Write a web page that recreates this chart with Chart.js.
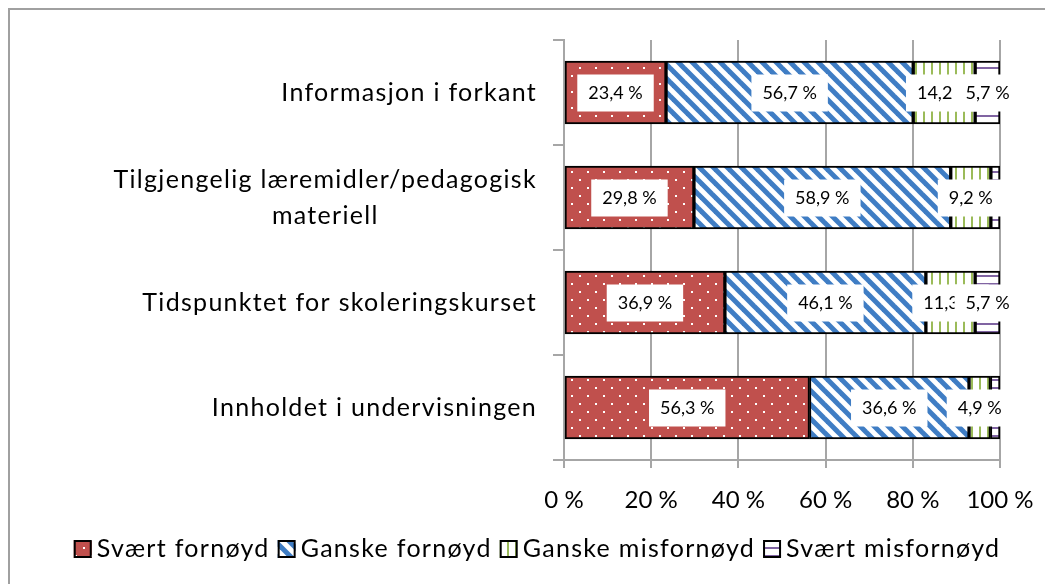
<!DOCTYPE html>
<html>
<head>
<meta charset="utf-8">
<script src="https://cdn.jsdelivr.net/npm/chart.js@4.4.1/dist/chart.umd.min.js"></script>
<style>
  html, body { margin: 0; padding: 0; background: #fff; }
  #wrap { width: 1045px; height: 584px; }
</style>
</head>
<body>
<div id="wrap"><canvas id="myChart"></canvas></div>
<script>
// data (percent of answers)
const categories = [
    ['Informasjon i forkant'],
    ['Tilgjengelig læremidler/pedagogisk', 'materiell'],
    ['Tidspunktet for skoleringskurset'],
    ['Innholdet i undervisningen']
]
const seriesNames = ['Svært fornøyd', 'Ganske fornøyd', 'Ganske misfornøyd', 'Svært misfornøyd']
const svaertFornoyd = [23.4, 29.8, 36.9, 56.3]
const ganskeFornoyd = [56.7, 58.9, 46.1, 36.6]
const ganskeMisfornoyd = [14.2, 9.2, 11.3, 4.9]
const svaertMisfornoyd = [5.7, 2.1, 5.7, 2.2]
const xTickStep = 20

const FONT = 'Lato'

const makePattern = (ctx, w, h, bg, draw) => {
    const c = document.createElement('canvas')
    c.width = w
    c.height = h
    const g = c.getContext('2d')
    g.fillStyle = bg
    g.fillRect(0, 0, w, h)
    draw(g)
    return ctx.createPattern(c, 'repeat')
}

const ctx = document.getElementById('myChart').getContext('2d')

// red with white dots
const dots = makePattern(ctx, 16, 16, '#C0504D', g => {
    g.fillStyle = '#fff'
    g.fillRect(3, 3, 2, 2)
    g.fillRect(11, 11, 2, 2)
})
// white with blue "\" stripes
const stripes = makePattern(ctx, 14, 14, '#fff', g => {
    g.strokeStyle = '#3F7DC4'
    g.lineWidth = 5
    ;[-14, 0, 14].forEach(o => {
        g.beginPath()
        g.moveTo(o - 2, -2)
        g.lineTo(o + 16, 16)
        g.stroke()
    })
})
// white with green vertical lines
const vlines = makePattern(ctx, 8, 8, '#fff', g => {
    g.fillStyle = '#9BBB59'
    g.fillRect(3, 0, 2, 8)
})
// white with purple horizontal lines
const hlines = makePattern(ctx, 8, 8, '#fff', g => {
    g.fillStyle = '#8064A2'
    g.fillRect(0, 3, 8, 2)
})

const fills = [dots, stripes, vlines, hlines]
const values = [svaertFornoyd, ganskeFornoyd, ganskeMisfornoyd, svaertMisfornoyd]

const outerBorder = {
    id: 'outerBorder',
    beforeDraw(chart) {
        const c = chart.ctx
        c.save()
        c.strokeStyle = '#A0A0A0'
        c.lineWidth = 2
        c.strokeRect(9, 9, 1200, 1200)
        c.restore()
    }
}

// category labels, lines centered on each other, right edge near the axis
const catLabels = {
    id: 'catLabels',
    afterDraw(chart) {
        const c = chart.ctx
        const y = chart.scales.y
        c.save()
        c.font = '25px ' + FONT
        c.letterSpacing = '1.3px'
        c.fillStyle = '#000'
        c.textAlign = 'center'
        c.textBaseline = 'middle'
        chart.data.labels.forEach((lines, i) => {
            const cy = y.getPixelForTick(i)
            const maxW = Math.max(...lines.map(l => c.measureText(l).width))
            const cx = 537 - maxW / 2
            const lh = 36
            lines.forEach((l, k) => {
                c.fillText(l, cx, cy + (k - (lines.length - 1) / 2) * lh)
            })
        })
        c.restore()
    }
}

const customLegend = {
    id: 'customLegend',
    afterDraw(chart) {
        const c = chart.ctx
        c.save()
        c.font = '25px ' + FONT
        c.letterSpacing = '1.3px'
        c.textBaseline = 'middle'
        c.textAlign = 'left'
        const items = chart.data.datasets.map(ds => ({ ds, w: c.measureText(ds.label).width }))
        const total = items.reduce((s, it) => s + 18 + 5 + it.w, 0) + 8 * (items.length - 1)
        let x = 537 - total / 2
        const cy = 549
        items.forEach(it => {
            c.fillStyle = it.ds.backgroundColor
            c.fillRect(x, cy - 9, 18, 18)
            c.strokeStyle = '#000'
            c.lineWidth = 2
            c.strokeRect(x + 1, cy - 8, 16, 16)
            c.fillStyle = '#000'
            c.fillText(it.ds.label, x + 23, cy)
            x += 18 + 5 + it.w + 8
        })
        c.restore()
    }
}

const labelBoxes = {
    id: 'labelBoxes',
    afterDatasetsDraw(chart) {
        const c = chart.ctx
        c.save()
        c.font = '18px ' + FONT
        c.textAlign = 'center'
        c.textBaseline = 'middle'
        chart.data.datasets.forEach((ds, i) => {
            chart.getDatasetMeta(i).data.forEach((bar, j) => {
                const v = ds.data[j]
                if (v < 3) return
                const txt = v.toFixed(1).replace('.', ',') + ' %'
                const w = c.measureText(txt).width + 22
                const cx = (bar.x + bar.base) / 2
                c.fillStyle = '#fff'
                c.fillRect(cx - w / 2, bar.y - 18, w, 37)
                c.fillStyle = '#000'
                c.fillText(txt, cx, bar.y + 1)
            })
        })
        c.restore()
    }
}

const myChart = new Chart(ctx, {
    type: 'bar',
    data: {
        labels: categories,
        datasets: seriesNames.map((name, i) => ({
            label: name,
            data: values[i],
            backgroundColor: fills[i],
            borderColor: '#000',
            borderWidth: 2,
            borderSkipped: false,
            barThickness: 63
        }))
    },
    options: {
        indexAxis: 'y',
        responsive: true,
        maintainAspectRatio: false,
        animation: false,
        layout: { padding: { top: 40, right: 45, left: 0, bottom: 66 } },
        plugins: {
            tooltip: { enabled: false },
            legend: { display: false }
        },
        scales: {
            x: {
                stacked: true,
                min: 0,
                max: 100,
                afterFit: s => {
                    s.height = 58
                    s.paddingLeft = 0
                    s.paddingRight = 0
                },
                ticks: {
                    stepSize: xTickStep,
                    color: '#000',
                    padding: 18,
                    font: { family: FONT, size: 24 },
                    callback: v => v + ' %'
                },
                grid: { color: '#A6A6A6', lineWidth: 2, tickLength: 8 },
                border: { color: '#A6A6A6', width: 2 }
            },
            y: {
                stacked: true,
                afterFit: s => { s.width = 564 },
                ticks: { display: false },
                grid: { drawOnChartArea: false, color: '#A6A6A6', lineWidth: 2, tickLength: 11 },
                border: { color: '#A6A6A6', width: 2 }
            }
        }
    },
    plugins: [outerBorder, labelBoxes, catLabels, customLegend]
})
</script>
</body>
</html>
